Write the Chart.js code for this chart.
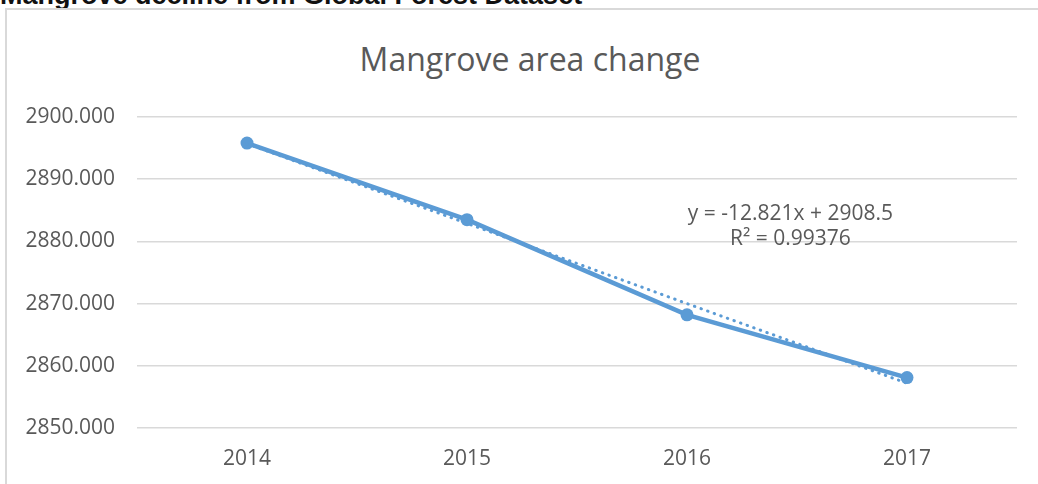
<!DOCTYPE html>
<html>
<head>
<meta charset="utf-8">
<script src="https://cdn.jsdelivr.net/npm/chart.js@4.4.0/dist/chart.umd.min.js"></script>
<style>
  html, body { margin: 0; padding: 0; background: #fff; overflow: hidden; }
  body { width: 1038px; height: 484px; position: relative; }
  #heading {
    position: absolute; left: 0; top: -18px;
    font: bold 27px "Liberation Sans", Arial, sans-serif; line-height: 27px;
    color: #111; white-space: nowrap;
  }
  #frame {
    position: absolute; left: 5px; top: 8px; width: 1040px; height: 500px;
    border: 2px solid #d9d9d9; box-sizing: border-box;
  }
  #chart-title {
    position: absolute; left: 0; top: 39px; width: 1060px; text-align: center;
    font: 32px "Open Sans", sans-serif; line-height: 40px; color: #595959;
  }
  #wrap { position: absolute; left: 0; top: 0; width: 1038px; height: 484px; }
</style>
</head>
<body>
<div id="heading">Mangrove decline from Global Forest Dataset</div>
<div id="frame"></div>
<div id="chart-title">Mangrove area change</div>
<div id="wrap"><canvas id="mangrove-chart"></canvas></div>
<script>
// years on the x axis
var years = ["2014", "2015", "2016", "2017"];
// mangrove area
var areaValues = [2895.8, 2883.5, 2868.2, 2858.1];
// linear trendline values at each year (y = -12.821x + 2908.5)
var trendValues = [2895.7, 2882.9, 2870.0, 2857.2];
// label text for the trendline
var trendLabel = ["y = -12.821x + 2908.5", "R\u00B2 = 0.99376"];

var blue = "#5b9bd5";
var grey = "#595959";
var fontFamily = '"Open Sans", "Liberation Sans", sans-serif';

// draws the trendline equation like Excel does
var trendLabelPlugin = {
    id: 'trendLabel',
    afterDatasetsDraw: function (chart) {
        var ctx = chart.ctx;
        var xs = chart.scales.x, ys = chart.scales.y;
        var x = xs.getPixelForValue(2) + 0.47 * (xs.getPixelForValue(3) - xs.getPixelForValue(2));
        ctx.save();
        ctx.fillStyle = grey;
        ctx.font = '21px ' + fontFamily;
        ctx.textAlign = 'center';
        ctx.textBaseline = 'alphabetic';
        ctx.fillText(trendLabel[0], x, ys.getPixelForValue(2883.4));
        ctx.fillText(trendLabel[1], x, ys.getPixelForValue(2879.4));
        ctx.restore();
    }
};

var ctx = document.getElementById("mangrove-chart").getContext("2d");
var areaChart = new Chart(ctx, {
    type: 'line',
    data: {
        labels: years,
        datasets: [
        {
            label: "Linear trend",
            data: trendValues,
            borderColor: blue,
            borderWidth: 3,
            borderDash: [0.5, 6.5],
            borderCapStyle: 'round',
            pointRadius: 0,
            fill: false,
            order: 0
        },
        {
            label: "Mangrove area",
            data: areaValues,
            borderColor: blue,
            backgroundColor: blue,
            borderWidth: 4.5,
            pointRadius: 6.5,
            pointBorderWidth: 0,
            pointBackgroundColor: blue,
            lineTension: 0,
            fill: false,
            order: 1
        }
        ]
    },
    options: {
        responsive: true,
        maintainAspectRatio: false,
        animation: false,
        layout: { padding: { left: 0, right: 21, top: 117, bottom: 0 } },
        plugins: {
            legend: { display: false },
            tooltip: { enabled: false },
            title: { display: false }
        },
        scales: {
            x: {
                offset: true,
                grid: { display: false, drawTicks: false },
                border: { display: false },
                ticks: {
                    color: grey,
                    padding: 18,
                    font: { family: fontFamily, size: 21 }
                },
                afterFit: function (scale) { scale.height = 56; }
            },
            y: {
                min: 2850,
                max: 2900,
                grid: { color: "#d9d9d9", lineWidth: 1.5, drawTicks: false },
                border: { display: false },
                ticks: {
                    stepSize: 10,
                    color: grey,
                    padding: 22,
                    font: { family: fontFamily, size: 21 },
                    callback: function (v) { return v.toFixed(3); }
                },
                afterFit: function (scale) { scale.width = 137; }
            }
        }
    },
    plugins: [trendLabelPlugin]
});
</script>
</body>
</html>
